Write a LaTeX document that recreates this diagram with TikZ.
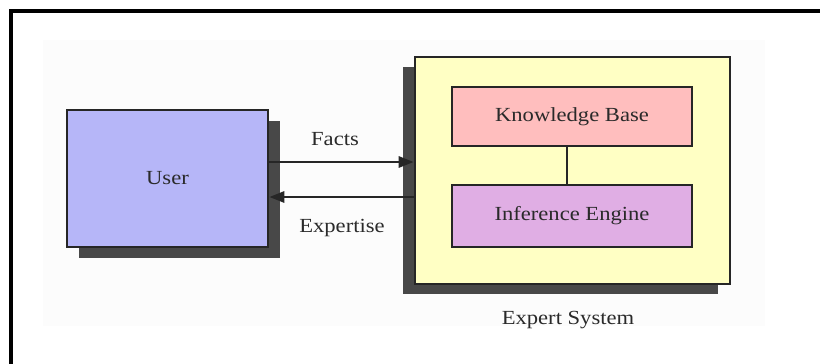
\documentclass[tikz,border=0pt]{standalone}
\usepackage{fontspec}
\setmainfont[FakeStretch=1.13]{Liberation Serif}
\usetikzlibrary{arrows.meta,shadows}
\definecolor{userfill}{HTML}{B6B6F8}
\definecolor{esfill}{HTML}{FFFFC4}
\definecolor{kbfill}{HTML}{FFBEBE}
\definecolor{iefill}{HTML}{E0AEE4}
\definecolor{shadowc}{HTML}{484848}
\definecolor{edgec}{HTML}{262626}
\definecolor{txtc}{HTML}{2A2A2A}
\tikzset{
  box/.style={draw=edgec, line width=2.6pt, rectangle, inner sep=0pt, text=txtc,
    font=\fontsize{20}{24}\selectfont},
  lbl/.style={text=txtc, inner sep=0pt, font=\fontsize{20}{24}\selectfont},
  arr/.style={draw=black!85, line width=2.8pt, -{Triangle[length=15pt,width=11pt]}},
  link/.style={draw=edgec, line width=2.4pt},
  frameline/.style={fill=black, draw=none}
}
\begin{document}
\begin{tikzpicture}[x=1pt,y=-1pt]
\useasboundingbox (0,0) rectangle (820,364);
\fill[white] (0,0) rectangle (820,364);
% faint background panel
\fill[black!1] (43,40) rectangle (765,326);
% outer frame (top and left)
\fill[frameline] (9,9) rectangle (820,13);
\fill[frameline] (9,9) rectangle (13,364);
% user
\node[box, fill=userfill, minimum width=201pt, minimum height=137pt,
  drop shadow={shadow xshift=12pt, shadow yshift=-11pt, fill=shadowc, opacity=1}]
  (user) at (167.5,178.5) {User};
% expert system
\node[box, fill=esfill, minimum width=315pt, minimum height=227pt,
  drop shadow={shadow xshift=-12pt, shadow yshift=-10pt, fill=shadowc, opacity=1}]
  (es) at (572.5,170.5) {};
\node[box, fill=kbfill, minimum width=240pt, minimum height=59pt] (kb) at (572,116.5) {Knowledge Base};
\node[box, fill=iefill, minimum width=240pt, minimum height=62pt] (ie) at (572,216) {Inference Engine};
\draw[link] ([xshift=-5pt]kb.south) -- ([xshift=-5pt]ie.north);
% arrows
\draw[arr] ([yshift=16.5pt]user.east) -- ([yshift=8.5pt]es.west);
\draw[arr] ([yshift=-26.5pt]es.west) -- ([yshift=-18.5pt]user.east);
% labels
\node[lbl] (facts) at (335,139) {Facts};
\node[lbl] (expertise) at (342,228) {Expertise};
\node[lbl] (esname) at (568,320) {Expert System};
\end{tikzpicture}
\end{document}
